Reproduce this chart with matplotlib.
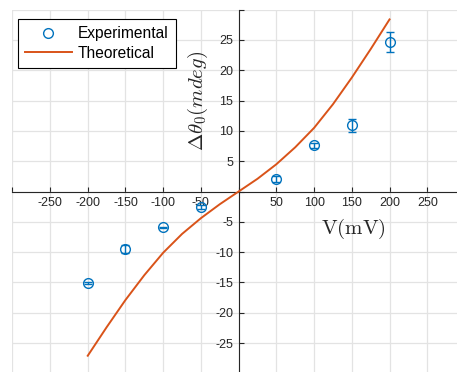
import numpy as np
import matplotlib
matplotlib.use('Agg')
import matplotlib.pyplot as plt
from matplotlib.lines import Line2D

plt.rcParams['font.family'] = ['Liberation Sans', 'DejaVu Sans']
plt.rcParams['mathtext.fontset'] = 'cm'

# measured points
v_exp = [-200, -150, -100, -50, 50, 100, 150, 200]
dtheta_exp = [-15.1, -9.5, -5.9, -2.6, 2.0, 7.6, 10.9, 24.7]
dtheta_err = [0.1, 0.7, 0.1, 0.3, 0.5, 0.4, 1.0, 1.6]

# model curve
v_th = [-200, -175, -150, -125, -100, -75, -50, -25, 0,
        25, 50, 75, 100, 125, 150, 175, 200]
dtheta_th = [-27.1, -22.4, -17.9, -13.8, -10.1, -7.0, -4.4, -2.1, 0,
             2.1, 4.5, 7.3, 10.5, 14.4, 18.8, 23.5, 28.4]

xticks = np.arange(-300, 301, 50)
yticks = np.arange(-30, 31, 5)

blue = '#0072BD'
orange = '#D95319'
dark = '#262626'

W, H = 457, 372
fig = plt.figure(figsize=(W / 100, H / 100), dpi=100)
ax = fig.add_axes([12.3 / W, -1.3 / H, 452.7 / W, 363.6 / H])

ax.errorbar(v_exp, dtheta_exp, yerr=dtheta_err, fmt='o', color=blue,
            mfc='none', ms=7, mew=1, elinewidth=1, capsize=3, zorder=3)
ax.plot(v_th, dtheta_th, color=orange, lw=1.4, zorder=4,
        solid_joinstyle='round')

ax.set_xlim(-300, 300)
ax.set_ylim(-30, 30)
ax.set_xticks(xticks)
ax.set_yticks(yticks)
ax.set_xticklabels(['' if t in (0, -300, 300) else str(t) for t in xticks])
ax.set_yticklabels(['' if t in (0, -30, 30) else str(t) for t in yticks])

for s in ('top', 'right'):
    ax.spines[s].set_visible(False)
for s in ('left', 'bottom'):
    ax.spines[s].set_position('zero')
    ax.spines[s].set_color(dark)
    ax.spines[s].set_linewidth(0.8)

ax.tick_params(direction='in', length=3.5, width=0.8, colors=dark,
               labelsize=9, pad=4)
ax.grid(True, color='#e3e3e3', lw=0.9)
ax.set_axisbelow(True)

fig.text(353 / W, 1 - 229 / H, r'$\mathrm{V(mV)}$', fontsize=15,
         ha='center', va='center', color=dark)
fig.text(198 / W, 1 - 101 / H, r'$\Delta\theta_0(mdeg)$', fontsize=15,
         ha='center', va='center', rotation=90, color=dark)

handles = [Line2D([], [], ls='none', marker='o', color=blue, mfc='none',
                  ms=7, mew=1),
           Line2D([], [], color=orange, lw=1.4)]
leg = ax.legend(handles, ['Experimental', 'Theoretical'], loc='upper left',
                bbox_to_anchor=(18 / W, 1 - 19 / H),
                bbox_transform=fig.transFigure, fontsize=11.2,
                fancybox=False, framealpha=1, edgecolor='black',
                borderaxespad=0, handlelength=3.0, borderpad=0.45,
                labelspacing=0.3, handletextpad=0.4)
leg.get_frame().set_linewidth(0.8)

fig.savefig('out.png', dpi=100)
